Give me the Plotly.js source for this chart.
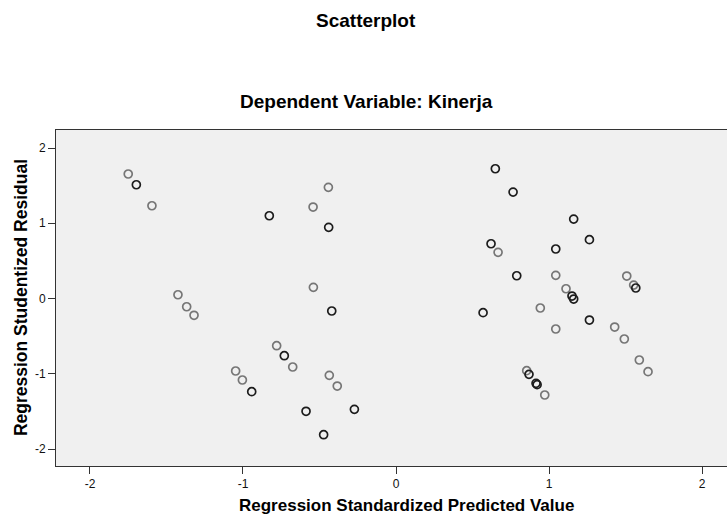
<!DOCTYPE html>
<html>
<head>
<meta charset="utf-8">
<script src="https://cdn.plot.ly/plotly-3.0.1.min.js"></script>
<style>html,body{margin:0;padding:0;background:#fff;}#chart{width:727px;height:520px;}</style>
</head>
<body>
<div id="chart"></div>
<script>
// Regression Standardized Predicted Value (x) and Studentized Residual (y)
var predicted = [
  -1.750, -1.697, -1.595, -0.828, -0.442, -0.542, -0.440, -0.540, -0.420,
  -1.425, -1.368, -1.320, -0.780, -0.730, -0.675, -1.048, -1.004, -0.943,
  -0.436, -0.384, -0.588, -0.272, -0.473,
  0.649, 0.765, 1.161, 1.264, 0.621, 0.667, 1.044, 0.789, 1.044, 1.508,
  1.553, 1.567, 1.111, 1.150, 1.161, 0.569, 0.943, 1.264, 1.044, 1.429,
  1.492, 1.590, 1.647, 0.854, 0.869, 0.915, 0.922, 0.972
];
var residual = [
  1.655, 1.512, 1.233, 1.100, 1.478, 1.216, 0.946, 0.149, -0.166,
  0.050, -0.109, -0.223, -0.627, -0.760, -0.910, -0.963, -1.083, -1.238,
  -1.021, -1.163, -1.499, -1.473, -1.810,
  1.725, 1.415, 1.056, 0.782, 0.728, 0.614, 0.658, 0.303, 0.308, 0.299,
  0.179, 0.140, 0.130, 0.033, -0.007, -0.188, -0.126, -0.286, -0.405, -0.379,
  -0.538, -0.817, -0.972, -0.959, -1.008, -1.127, -1.145, -1.282
];
// number of cases drawn at each spot (overlapping cases look darker)
var cases = [
  1, 2, 1, 2, 1, 1, 2, 1, 2,
  1, 1, 1, 1, 2, 1, 1, 1, 2,
  1, 1, 2, 2, 2,
  2, 2, 2, 2, 2, 1, 2, 2, 1, 1,
  1, 2, 1, 2, 2, 2, 1, 2, 1, 1,
  1, 1, 1, 1, 2, 2, 2, 1
];
var xTicks = [-2, -1, 0, 1, 2];
var yTicks = [-2, -1, 0, 1, 2];

var lineColors = cases.map(function (c) { return c > 1 ? '#1c1c1c' : '#767676'; });

var font = 'Liberation Sans, Arial, sans-serif';

var trace = {
  type: 'scatter',
  mode: 'markers',
  x: predicted,
  y: residual,
  hoverinfo: 'x+y',
  marker: {
    symbol: 'circle-open',
    size: 8,
    color: lineColors,
    line: { width: 1.7, color: lineColors }
  }
};

function axis(range, ticks) {
  return {
    range: range,
    tickvals: ticks,
    ticktext: ticks.map(String),
    ticks: 'outside',
    ticklen: 7,
    tickwidth: 1,
    tickcolor: '#333',
    showline: true,
    linecolor: '#333',
    linewidth: 1,
    mirror: true,
    showgrid: false,
    zeroline: false,
    fixedrange: true,
    tickfont: { family: font, size: 12, color: '#111' }
  };
}

var layout = {
  width: 727,
  height: 520,
  margin: { l: 56, r: 0, t: 130, b: 54, pad: 0 },
  paper_bgcolor: '#ffffff',
  plot_bgcolor: '#f0f0f0',
  showlegend: false,
  xaxis: axis([-2.222, 2.163], xTicks),
  yaxis: axis([-2.226, 2.24], yTicks),
  annotations: [
    { text: '<b>Scatterplot</b>', xref: 'paper', yref: 'paper', x: 0.462, y: 1.327,
      xanchor: 'center', yanchor: 'middle', showarrow: false,
      font: { family: font, size: 19, color: '#000' } },
    { text: '<b>Dependent Variable: Kinerja</b>', xref: 'paper', yref: 'paper', x: 0.462, y: 1.086,
      xanchor: 'center', yanchor: 'middle', showarrow: false,
      font: { family: font, size: 19, color: '#000' } },
    { text: '<b>Regression Standardized Predicted Value</b>', xref: 'paper', yref: 'paper', x: 0.523, y: -0.119,
      xanchor: 'center', yanchor: 'middle', showarrow: false,
      font: { family: font, size: 17, color: '#000' } },
    { text: '<b>Regression Studentized Residual</b>', xref: 'paper', yref: 'paper', x: -0.052, y: 0.5,
      xanchor: 'center', yanchor: 'middle', showarrow: false, textangle: -90,
      font: { family: font, size: 17.5, color: '#000' } }
  ]
};

Plotly.newPlot('chart', [trace], layout, { displayModeBar: false, staticPlot: false });
</script>
</body>
</html>
